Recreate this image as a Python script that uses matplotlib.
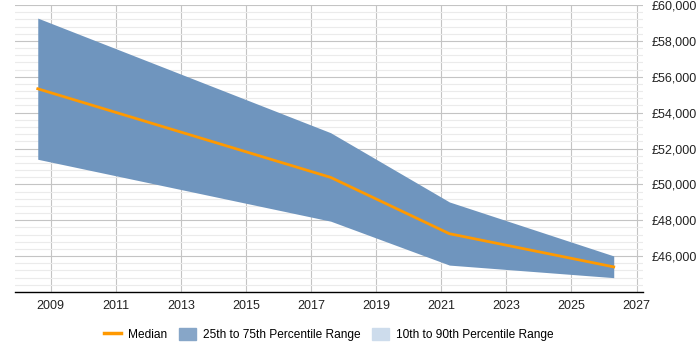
import matplotlib
matplotlib.use("Agg")
import matplotlib.pyplot as plt
from matplotlib.ticker import MultipleLocator, FuncFormatter
from matplotlib.patches import Patch
from matplotlib.lines import Line2D

plt.rcParams['font.family'] = ['Liberation Sans', 'DejaVu Sans']

# data
years = [2008.6, 2017.6, 2021.25, 2026.3]
p25 = [51400, 47950, 45500, 44800]
median = [55330, 50390, 47250, 45400]
p75 = [59270, 52880, 49020, 46010]
xticks = [2009, 2011, 2013, 2015, 2017, 2019, 2021, 2023, 2025, 2027]
yticks = [46000, 48000, 50000, 52000, 54000, 56000, 58000, 60000]

fig = plt.figure(figsize=(7, 3.5), dpi=100)
ax = fig.add_axes([0.0214, 0.1657, 0.8972, 0.82])

ax.fill_between(years, p25, p75, color='#6f95be', lw=0, zorder=2)
ax.plot(years, median, color='#ff9900', lw=2, zorder=3)

ax.set_xlim(2007.9, 2027.2)
ax.set_ylim(44000, 60000)
ax.set_xticks(xticks)
ax.set_yticks(yticks)
ax.yaxis.set_minor_locator(MultipleLocator(400))
ax.yaxis.set_major_formatter(FuncFormatter(lambda v, p: f'£{v:,.0f}'))
ax.yaxis.tick_right()

ax.grid(True, which='major', color='#c4c4c4', lw=0.8, zorder=0)
ax.grid(True, which='minor', axis='y', color='#ebebeb', lw=0.8, zorder=0)
ax.set_axisbelow(True)
ax.tick_params(axis='both', which='both', length=0, labelsize=9, colors='#222222')
ax.tick_params(axis='y', pad=6)
ax.tick_params(axis='x', pad=6)
for s in ['top', 'right', 'left']:
    ax.spines[s].set_visible(False)
ax.spines['bottom'].set_color('black')
ax.spines['bottom'].set_linewidth(1)

handles = [
    Line2D([0], [0], color='#ff9900', lw=2.5),
    Patch(color='#87a6c8'),
    Patch(color='#cddcec'),
]
labels = ['Median', '25th to 75th Percentile Range', '10th to 90th Percentile Range']
fig.legend(handles, labels, loc='center', bbox_to_anchor=(0.47, 0.045), ncol=3,
           frameon=False, fontsize=8.6, handlelength=1.4, handleheight=1.2,
           columnspacing=1.0, handletextpad=0.6)

fig.savefig('out.png', dpi=100)
